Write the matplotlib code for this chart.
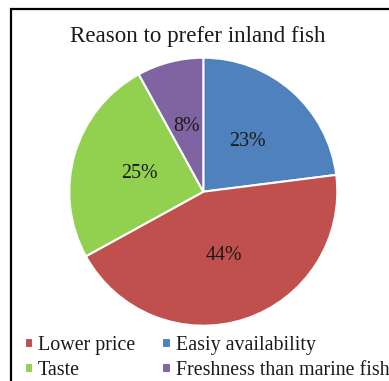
import matplotlib
matplotlib.use("Agg")
from matplotlib import pyplot as plt
from matplotlib.patches import Rectangle

plt.rcParams['font.family'] = ['Liberation Serif', 'DejaVu Serif']

# survey shares, in drawing order (clockwise from 12 o'clock)
reasons = ["Easiy availability", "Lower price", "Taste", "Freshness than marine fish"]
shares = [23, 44, 25, 8]
colors = ["#4F81BD", "#C0504D", "#92D050", "#8064A2"]
legend_order = [1, 2, 0, 3]  # two columns, filled column by column

W, H = 389, 381
fig = plt.figure(figsize=(W / 100, H / 100), dpi=100)

# pie axes: centre at (203, 192) px, radius 134 px
cx, cy, r = 203.3, 191.7, 134
ax = fig.add_axes([(cx - r) / W, (H - cy - r) / H, 2 * r / W, 2 * r / H])
wedges, texts, autotexts = ax.pie(
    shares, colors=colors, startangle=90, counterclock=False,
    autopct="%d%%", pctdistance=0.5,
    wedgeprops=dict(edgecolor="white", linewidth=1.5),
    textprops=dict(fontsize=14.4, color="#1a1a1a"))
ax.set_xlim(-1, 1)
ax.set_ylim(-1, 1)
ax.set_aspect("equal")

fig.text(197.5 / W, 1 - 42 / H, "Reason to prefer inland fish",
         ha="center", va="baseline", fontsize=16.6, color="#1a1a1a")

leg = fig.legend([wedges[i] for i in legend_order],
                 [reasons[i] for i in legend_order],
                 ncol=2, loc="upper left", bbox_to_anchor=(24.5 / W, 1 - 336 / H),
                 frameon=False, fontsize=14.4, borderpad=0, borderaxespad=0,
                 handlelength=0.42, handleheight=0.42, handletextpad=0.26,
                 columnspacing=1.35, labelspacing=0.3)
for t in leg.get_texts():
    t.set_color("#1a1a1a")

# outer frame (only top and left edges fall inside the image)
fig.add_artist(Rectangle((11 / W, -0.5), 2, 1.5 - 9 / H, transform=fig.transFigure,
                         fill=False, edgecolor="black", linewidth=1.6))

fig.savefig("out.png", dpi=100)
